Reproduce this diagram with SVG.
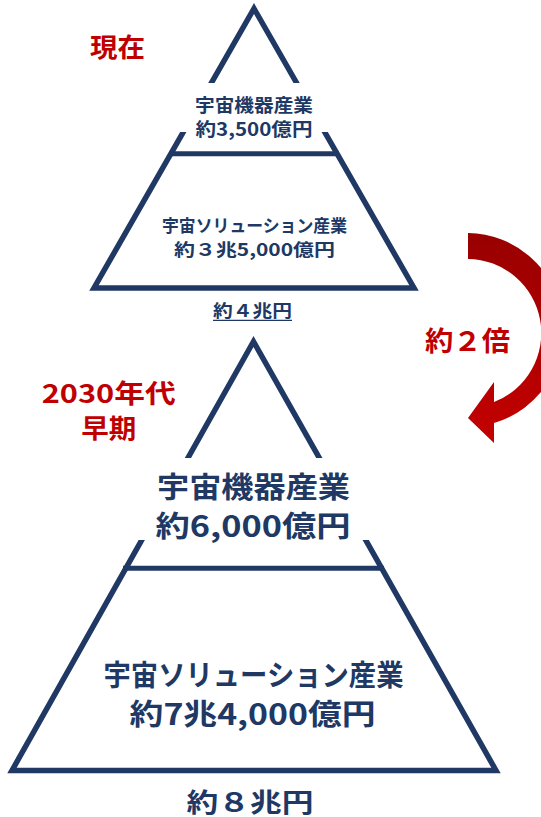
<svg xmlns="http://www.w3.org/2000/svg" width="541" height="817" viewBox="0 0 541 817">
  <defs>
    <style>
      .outline { fill: none; stroke: #203864; stroke-width: 5.5; stroke-linejoin: miter; stroke-miterlimit: 10; }
      .divider { stroke: #203864; stroke-width: 5; }
      .mask { fill: #ffffff; }
      .t { font-family: "Noto Sans CJK JP", "Noto Sans", sans-serif; font-weight: 700; fill: #203864; text-anchor: middle; }
      .r { font-family: "Noto Sans CJK JP", "Noto Sans", sans-serif; font-weight: 700; fill: #c00000; text-anchor: middle; }
    </style>
    <linearGradient id="arrowGrad" gradientUnits="userSpaceOnUse" x1="0" y1="233" x2="0" y2="443">
      <stop offset="0" stop-color="#990000"/>
      <stop offset="1" stop-color="#c40000"/>
    </linearGradient>
  </defs>
  <rect width="541" height="817" fill="#ffffff"/>

  <!-- Present pyramid -->
  <g id="now-pyramid">
    <polygon class="outline" points="254,8.5 414,288 94,288"/>
    <line class="divider" x1="169" y1="153.8" x2="339" y2="153.8"/>
  </g>
  <g id="now-equipment">
    <rect class="mask" x="172" y="83" width="164" height="49"/>
    <text class="t" x="254" y="112" font-size="18.5" textLength="118" lengthAdjust="spacingAndGlyphs">宇宙機器産業</text>
    <text class="t" x="254" y="135.5" font-size="18.5" textLength="117" lengthAdjust="spacingAndGlyphs">約3,500億円</text>
  </g>
  <g id="now-solution">
    <text class="t" x="254.5" y="231.5" font-size="17.5" textLength="185" lengthAdjust="spacingAndGlyphs">宇宙ソリューション産業</text>
    <text class="t" x="254.5" y="255.5" font-size="17.5" textLength="161" lengthAdjust="spacingAndGlyphs">約３兆5,000億円</text>
  </g>
  <g id="now-total">
    <text class="t" x="252.5" y="316.5" font-size="17" textLength="79" lengthAdjust="spacingAndGlyphs">約４兆円</text>
    <line x1="213" y1="320.3" x2="292" y2="320.3" stroke="#203864" stroke-width="1.3"/>
  </g>
  <g id="label-now">
    <text class="r" x="117.5" y="56.6" font-size="26" textLength="55" lengthAdjust="spacingAndGlyphs">現在</text>
  </g>

  <!-- Future pyramid -->
  <g id="future-pyramid">
    <polygon class="outline" points="253.5,341.5 496,770.5 12,770.5"/>
    <line class="divider" x1="123" y1="568.3" x2="384" y2="568.3"/>
  </g>
  <g id="future-equipment">
    <rect class="mask" x="128" y="458" width="251" height="82"/>
    <text class="t" x="253.5" y="497.5" font-size="29" textLength="193" lengthAdjust="spacingAndGlyphs">宇宙機器産業</text>
    <text class="t" x="253" y="536.5" font-size="29" textLength="195" lengthAdjust="spacingAndGlyphs">約6,000億円</text>
  </g>
  <g id="future-solution">
    <text class="t" x="253.5" y="685.5" font-size="29" textLength="300" lengthAdjust="spacingAndGlyphs">宇宙ソリューション産業</text>
    <text class="t" x="252.6" y="725" font-size="29" textLength="246" lengthAdjust="spacingAndGlyphs">約7兆4,000億円</text>
  </g>
  <g id="future-total">
    <text class="t" x="250" y="811.5" font-size="26" textLength="127" lengthAdjust="spacingAndGlyphs">約８兆円</text>
  </g>
  <g id="label-future">
    <text class="r" x="108.7" y="402.5" font-size="26" textLength="134" lengthAdjust="spacingAndGlyphs">2030年代</text>
    <text class="r" x="108.7" y="437.5" font-size="26" textLength="55" lengthAdjust="spacingAndGlyphs">早期</text>
  </g>

  <!-- Connector: growth arrow -->
  <g id="connectors">
    <path d="M 468 233 A 97 97 0 0 1 494 423 L 494 443 L 468 418 L 494 382 L 494 402 A 74 74 0 0 0 468 259 Z" fill="url(#arrowGrad)"/>
    <text class="r" x="467.5" y="351" font-size="27" textLength="85" lengthAdjust="spacingAndGlyphs">約２倍</text>
  </g>
</svg>
